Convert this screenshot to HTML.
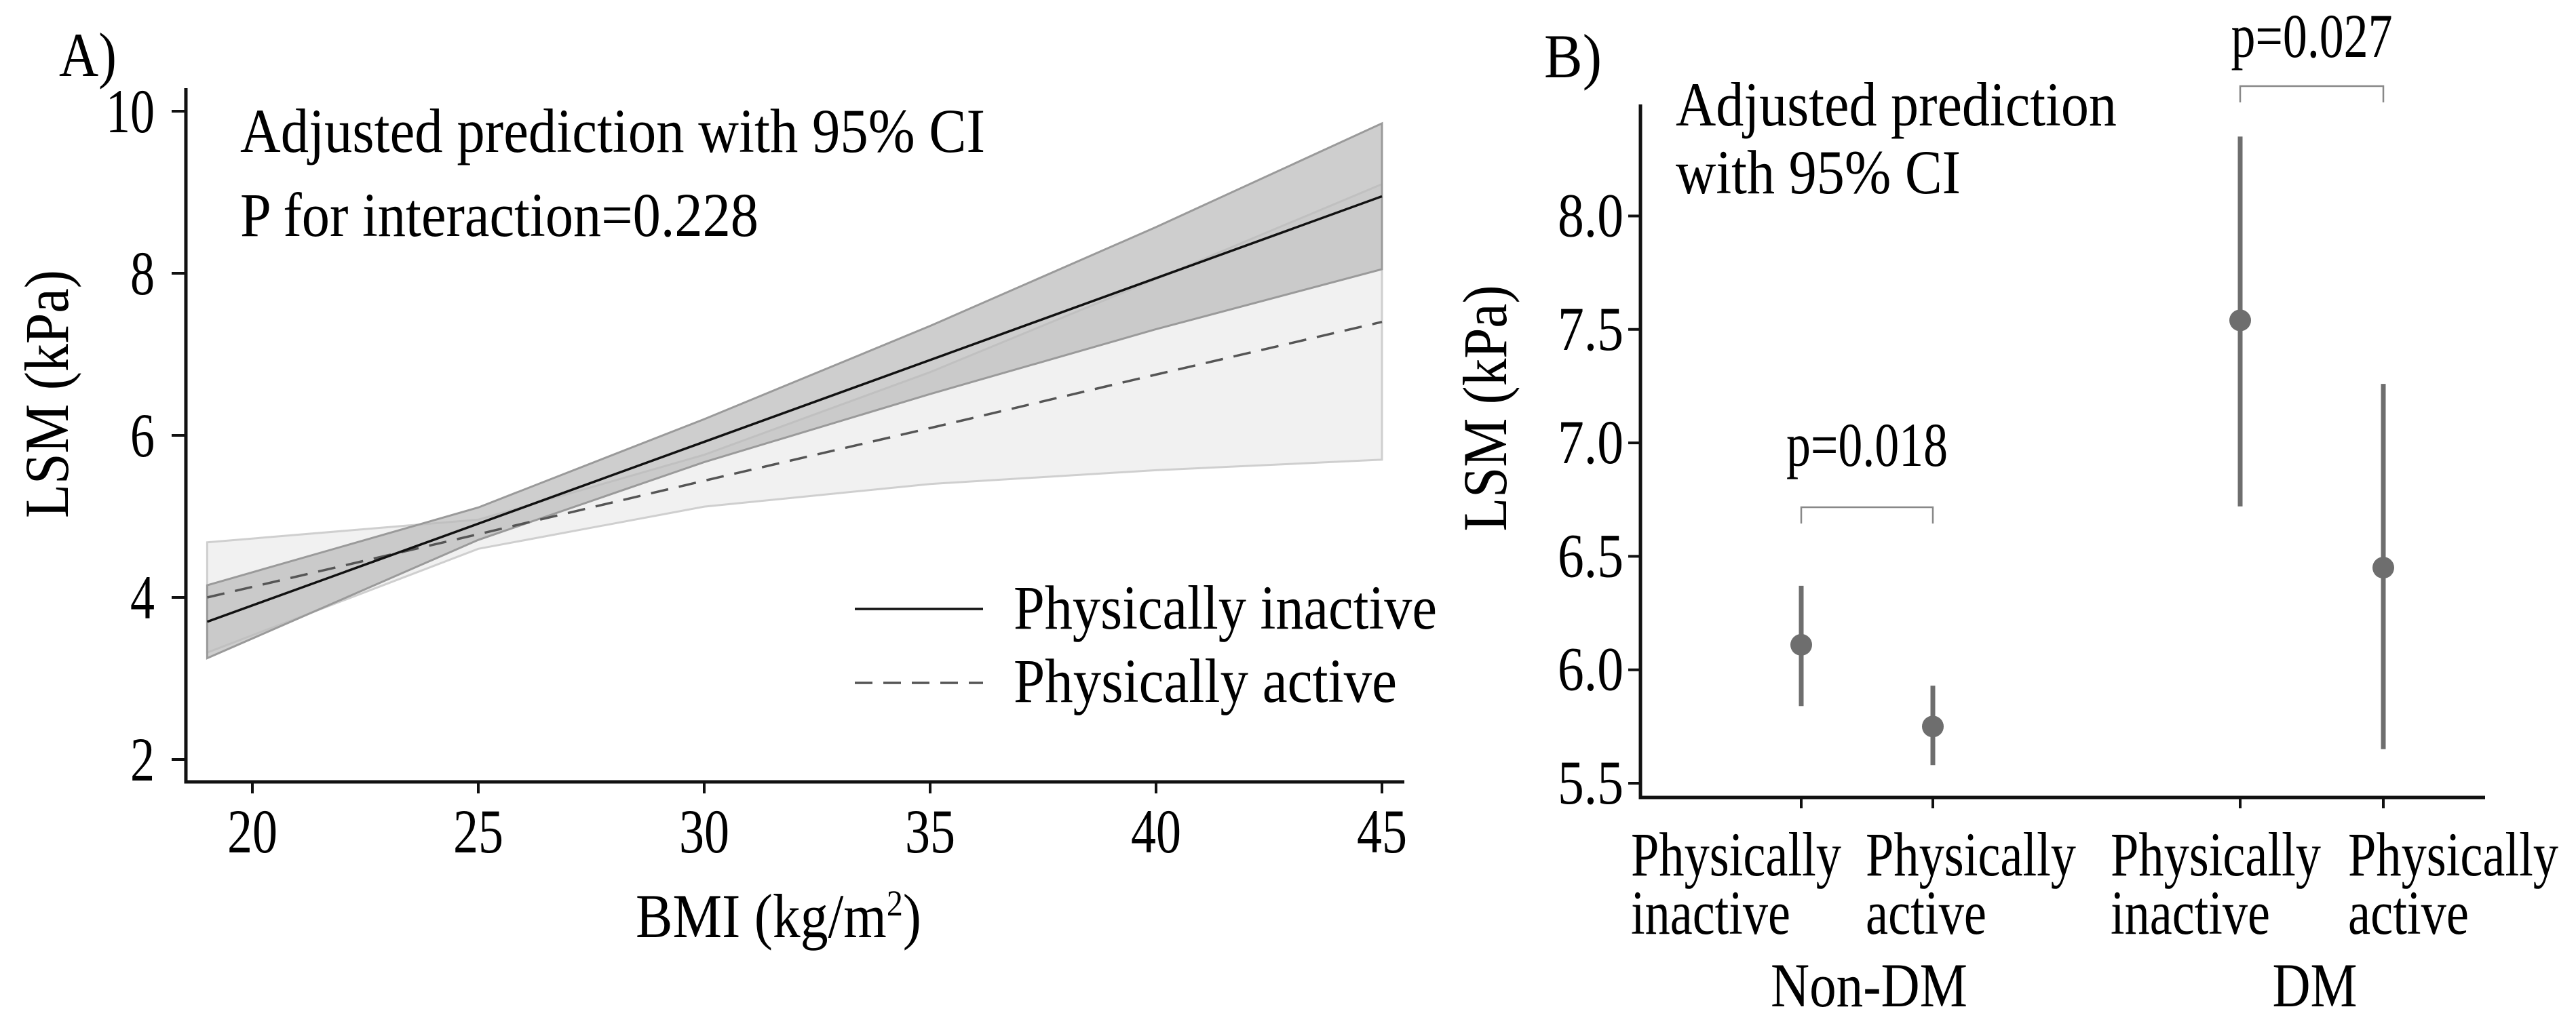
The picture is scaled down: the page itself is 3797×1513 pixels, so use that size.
<!DOCTYPE html>
<html><head><meta charset="utf-8"><style>
html,body{margin:0;padding:0;background:#fff;}
svg{display:block;font-family:"Liberation Serif",serif;}
</style></head><body>
<svg id="chart" width="3797" height="1513" viewBox="0 0 3797 1513" xmlns="http://www.w3.org/2000/svg">
<rect width="3797" height="1513" fill="#fff"/>
<g id="pa"></g>
<g id="pb"></g>
</svg>
<script>
// Panel A data
const bmiX = [19, 25, 30, 35, 40, 45];
const inactiveMean = [3.7, 4.91, 5.92, 6.93, 7.94, 8.95];
const inactiveLo = [3.25, 4.71, 5.67, 6.51, 7.31, 8.05];
const inactiveHi = [4.15, 5.11, 6.2, 7.35, 8.57, 9.85];
const activeMean = [4.0, 4.78, 5.44, 6.09, 6.75, 7.4];
const activeLo = [3.32, 4.6, 5.12, 5.4, 5.57, 5.7];
const activeHi = [4.68, 4.96, 5.76, 6.78, 7.93, 9.1];
const aXTicks = [20, 25, 30, 35, 40, 45];
const aYTicks = [2, 4, 6, 8, 10];
// Panel B data
const bCategories = ["Physically|inactive", "Physically|active", "Physically|inactive", "Physically|active"];
const bGroups = ["Non-DM", "DM"];
const bEst = [6.11, 5.75, 7.54, 6.45];
const bLo = [5.84, 5.58, 6.72, 5.65];
const bHi = [6.37, 5.93, 8.35, 7.26];
const bYTicks = ["5.5", "6.0", "6.5", "7.0", "7.5", "8.0"];
const bPvals = ["p=0.018", "p=0.027"];

const NS = "http://www.w3.org/2000/svg";
const FS = 92;
function mk(parent, tag, attrs, text) {
  const e = document.createElementNS(NS, tag);
  for (const k in attrs) e.setAttribute(k, attrs[k]);
  if (text !== undefined) e.textContent = text;
  parent.appendChild(e);
  return e;
}
const pa = document.getElementById('pa');
const pb = document.getElementById('pb');

// ---- Panel A ----
const ax = v => 372 + (v - 20) * (2037 - 372) / 25;
const ay = v => 1120 - (v - 2) * 119.5;
function band(lo, hi) {
  let d = "";
  bmiX.forEach((x, i) => { d += (i ? "L" : "M") + ax(x) + "," + ay(hi[i]); });
  for (let i = bmiX.length - 1; i >= 0; i--) d += "L" + ax(bmiX[i]) + "," + ay(lo[i]);
  return d + "Z";
}
function line(m) { return bmiX.map((x, i) => (i ? "L" : "M") + ax(x) + "," + ay(m[i])).join(""); }
let e;
e = mk(pa, 'path', {d: band(activeLo, activeHi), fill: '#f1f1f1', stroke: '#cfcfcf', 'stroke-width': 3});


e = mk(pa, 'path', {d: band(inactiveLo, inactiveHi), fill: '#b9b9b9', 'fill-opacity': 0.7, stroke: '#9a9a9a', 'stroke-width': 3});


e = mk(pa, 'path', {d: line(activeMean), fill: 'none', stroke: '#555', 'stroke-width': 3.5, 'stroke-dasharray': '26,16'});


e = mk(pa, 'path', {d: line(inactiveMean), fill: 'none', stroke: '#111', 'stroke-width': 3.5});


e = mk(pa, 'path', {d: 'M274,130V1153H2070', fill: 'none', stroke: '#111', 'stroke-width': 5});


aYTicks.forEach(v => {
  mk(pa, 'line', {x1: 253, x2: 274, y1: ay(v), y2: ay(v), stroke: '#111', 'stroke-width': 4});
  const s = String(v);
  e = mk(pa, 'text', {x: 228, y: ay(v) + 31, 'font-size': FS, 'text-anchor': 'end', textLength: 36 * s.length, lengthAdjust: 'spacingAndGlyphs'}, s);
  
  
});
aXTicks.forEach(v => {
  mk(pa, 'line', {x1: ax(v), x2: ax(v), y1: 1153, y2: 1170, stroke: '#111', 'stroke-width': 4});
  e = mk(pa, 'text', {x: ax(v), y: 1257, 'font-size': FS, 'text-anchor': 'middle', textLength: 74, lengthAdjust: 'spacingAndGlyphs'}, v);
  
  
});
mk(pa, 'line', {x1: 1260, x2: 1449, y1: 898, y2: 898, stroke: '#111', 'stroke-width': 3.5});
mk(pa, 'line', {x1: 1260, x2: 1449, y1: 1007, y2: 1007, stroke: '#555', 'stroke-width': 3.5, 'stroke-dasharray': '26,16'});
e = mk(pa, 'text', {x: 1494, y: 927, 'font-size': FS, textLength: 624, lengthAdjust: 'spacingAndGlyphs'}, 'Physically inactive');


e = mk(pa, 'text', {x: 1494, y: 1035, 'font-size': FS, textLength: 565, lengthAdjust: 'spacingAndGlyphs'}, 'Physically active');


e = mk(pa, 'text', {x: 354, y: 224, 'font-size': FS, textLength: 1098, lengthAdjust: 'spacingAndGlyphs'}, 'Adjusted prediction with 95% CI');


e = mk(pa, 'text', {x: 354, y: 348, 'font-size': FS, textLength: 764, lengthAdjust: 'spacingAndGlyphs'}, 'P for interaction=0.228');


e = mk(pa, 'text', {x: 87, y: 112, 'font-size': FS, textLength: 85, lengthAdjust: 'spacingAndGlyphs'}, 'A)');


e = mk(pa, 'text', {x: 0, y: 0, 'font-size': FS, 'text-anchor': 'middle', transform: 'translate(100,581) rotate(-90)', textLength: 366, lengthAdjust: 'spacingAndGlyphs'}, 'LSM (kPa)');


e = mk(pa, 'text', {x: 937, y: 1382, 'font-size': FS, textLength: 421, lengthAdjust: 'spacingAndGlyphs'});


e.innerHTML = 'BMI (kg/m<tspan font-size="54" dy="-32">2</tspan><tspan dy="32">)</tspan>';

// ---- Panel B ----
const bxPos = [2655, 2849, 3302, 3513];
const bxLabelStart = [2404, 2750, 3111, 3461];
const by = v => 318.5 + (8.0 - v) * 334.6;
e = mk(pb, 'path', {d: 'M2418,154V1176H3663', fill: 'none', stroke: '#111', 'stroke-width': 5});


bYTicks.forEach(t => {
  const v = parseFloat(t);
  mk(pb, 'line', {x1: 2400, x2: 2418, y1: by(v), y2: by(v), stroke: '#111', 'stroke-width': 4});
  e = mk(pb, 'text', {x: 2393, y: by(v) + 30, 'font-size': FS, 'text-anchor': 'end', textLength: 97, lengthAdjust: 'spacingAndGlyphs'}, t);
  
  
});
bEst.forEach((v, i) => {
  const x = bxPos[i];
  mk(pb, 'line', {x1: x, x2: x, y1: 1176, y2: 1192, stroke: '#111', 'stroke-width': 4});
  e = mk(pb, 'line', {x1: x, x2: x, y1: by(bLo[i]), y2: by(bHi[i]), stroke: '#6e6e6e', 'stroke-width': 7});
  
  
  e = mk(pb, 'circle', {cx: x, cy: by(v), r: 16, fill: '#6e6e6e'});
  
  
  const parts = bCategories[i].split('|');
  e = mk(pb, 'text', {x: bxLabelStart[i], y: 1291, 'font-size': FS, textLength: 310, lengthAdjust: 'spacingAndGlyphs'}, parts[0]);
  
  
  e = mk(pb, 'text', {x: bxLabelStart[i], y: 1377, 'font-size': FS, textLength: parts[1] === 'inactive' ? 235 : 178, lengthAdjust: 'spacingAndGlyphs'}, parts[1]);
  
  
});
const groupCenters = [2755, 3412];
bGroups.forEach((g, i) => {
  e = mk(pb, 'text', {x: groupCenters[i], y: 1484, 'font-size': FS, 'text-anchor': 'middle', textLength: g.length > 2 ? 290 : 125, lengthAdjust: 'spacingAndGlyphs'}, g);
  
  
});
const brY = [748, 127];
const brText = [687, 84];
bPvals.forEach((p, i) => {
  const x1 = bxPos[i * 2], x2 = bxPos[i * 2 + 1];
  e = mk(pb, 'path', {d: `M${x1},${brY[i] + 24}V${brY[i]}H${x2}V${brY[i] + 24}`, fill: 'none', stroke: '#888', 'stroke-width': 2.5});
  
  
  e = mk(pb, 'text', {x: (x1 + x2) / 2, y: brText[i], 'font-size': FS, 'text-anchor': 'middle', textLength: 238, lengthAdjust: 'spacingAndGlyphs'}, p);
  
  
});
e = mk(pb, 'text', {x: 2276, y: 114, 'font-size': FS, textLength: 85, lengthAdjust: 'spacingAndGlyphs'}, 'B)');


e = mk(pb, 'text', {x: 2470, y: 185, 'font-size': FS, textLength: 650, lengthAdjust: 'spacingAndGlyphs'}, 'Adjusted prediction');


e = mk(pb, 'text', {x: 2470, y: 285, 'font-size': FS, textLength: 420, lengthAdjust: 'spacingAndGlyphs'}, 'with 95% CI');


e = mk(pb, 'text', {x: 0, y: 0, 'font-size': FS, 'text-anchor': 'middle', transform: 'translate(2220,602) rotate(-90)', textLength: 363, lengthAdjust: 'spacingAndGlyphs'}, 'LSM (kPa)');


</script>
</body></html>
